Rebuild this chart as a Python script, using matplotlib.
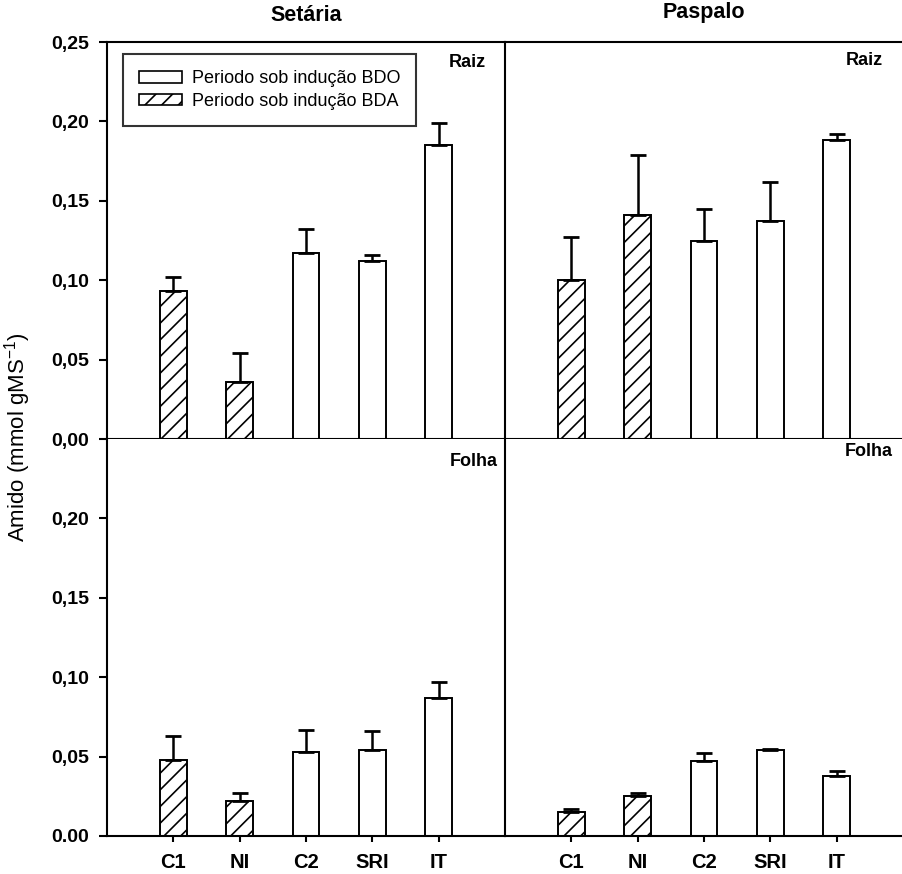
import matplotlib
matplotlib.use("Agg")
import matplotlib.pyplot as plt
import numpy as np
from matplotlib.patches import Patch

plt.rcParams["font.family"] = ["Liberation Sans", "DejaVu Sans"]
plt.rcParams["hatch.linewidth"] = 1.2

categorias = ["C1", "NI", "C2", "SRI", "IT"]
bda = [True, True, False, False, False]  # periodo sob inducao BDA (hachurado)

setaria_raiz = [0.093, 0.036, 0.117, 0.112, 0.185]
setaria_raiz_err = [0.009, 0.018, 0.015, 0.004, 0.014]
paspalo_raiz = [0.100, 0.141, 0.125, 0.137, 0.188]
paspalo_raiz_err = [0.027, 0.038, 0.020, 0.025, 0.004]
setaria_folha = [0.048, 0.022, 0.053, 0.054, 0.087]
setaria_folha_err = [0.015, 0.005, 0.014, 0.012, 0.010]
paspalo_folha = [0.015, 0.025, 0.047, 0.054, 0.038]
paspalo_folha_err = [0.002, 0.002, 0.005, 0.001, 0.003]

yticks_top = [0.00, 0.05, 0.10, 0.15, 0.20, 0.25]
ylabels_top = ["0,00", "0,05", "0,10", "0,15", "0,20", "0,25"]
yticks_bot = [0.00, 0.05, 0.10, 0.15, 0.20]
ylabels_bot = ["0.00", "0,05", "0,10", "0,15", "0,20"]

fig = plt.figure(figsize=(9.02, 8.74), dpi=100)

left, mid, w = 0.1186, 0.5599, 0.4412
bot, hmid, h = 0.0435, 0.4977, 0.4542

axs = {
    "tl": fig.add_axes([left, hmid, w, h]),
    "tr": fig.add_axes([mid, hmid, w, h]),
    "bl": fig.add_axes([left, bot, w, h]),
    "br": fig.add_axes([mid, bot, w, h]),
}

x = np.arange(len(categorias))


def draw(ax, vals, errs, label, lx, ly):
    for i in range(len(vals)):
        ax.bar(x[i], vals[i], width=0.4, facecolor="white", edgecolor="black",
               linewidth=1.4, hatch="//" if bda[i] else None, zorder=2)
    ax.errorbar(x, vals, yerr=[np.zeros(len(errs)), errs], fmt="none",
                ecolor="black", elinewidth=1.8, capsize=5.5, capthick=2, zorder=3)
    ax.set_xlim(-1, 5)
    ax.set_ylim(0, 0.25)
    for s in ax.spines.values():
        s.set_linewidth(1.5)
    ax.spines["right"].set_visible(False)
    ax.text(lx, ly, label, transform=ax.transAxes,
            ha="right", va="top", fontsize=13, fontweight="bold")


draw(axs["tl"], setaria_raiz, setaria_raiz_err, "Raiz", 0.952, 0.97)
draw(axs["tr"], paspalo_raiz, paspalo_raiz_err, "Raiz", 0.95, 0.975)
draw(axs["bl"], setaria_folha, setaria_folha_err, "Folha", 0.982, 0.965)
draw(axs["br"], paspalo_folha, paspalo_folha_err, "Folha", 0.975, 0.99)

for k in ["tl", "tr"]:
    axs[k].set_xticks([])
for k in ["bl", "br"]:
    axs[k].spines["top"].set_visible(False)
    axs[k].set_xticks(x)
    axs[k].set_xticklabels(categorias, fontsize=14.5, fontweight="bold")
    axs[k].tick_params(axis="x", length=4, width=1.5, pad=8)

axs["tl"].set_yticks(yticks_top)
axs["tl"].set_yticklabels(ylabels_top)
axs["bl"].set_yticks(yticks_bot)
axs["bl"].set_yticklabels(ylabels_bot)
for k in ["tl", "bl"]:
    axs[k].tick_params(axis="y", length=6, width=1.5, labelsize=14, pad=7)
    for t in axs[k].get_yticklabels():
        t.set_fontweight("bold")
for k in ["tr", "br"]:
    axs[k].set_yticks([])

axs["tl"].set_title("Setária", fontsize=15.5, fontweight="bold", pad=15)
axs["tr"].set_title("Paspalo", fontsize=15.5, fontweight="bold", pad=17)

fig.text(0.02, 0.5, "Amido (mmol gMS$^{\\mathregular{-1}}$)", rotation=90,
         ha="center", va="center", fontsize=16)

handles = [Patch(facecolor="white", edgecolor="black", linewidth=1.2,
                 label="Periodo sob indução BDO"),
           Patch(facecolor="white", edgecolor="black", linewidth=1.2, hatch="//",
                 label="Periodo sob indução BDA")]
leg = axs["tl"].legend(handles=handles, loc="upper left", bbox_to_anchor=(0.04, 0.97),
                       fontsize=13, frameon=True, fancybox=False, edgecolor="black",
                       handlelength=2.4, handleheight=0.6, handletextpad=0.5,
                       borderpad=0.9, labelspacing=0.3, borderaxespad=0)
leg.get_frame().set_linewidth(1.5)

fig.savefig("out.png", dpi=100)
